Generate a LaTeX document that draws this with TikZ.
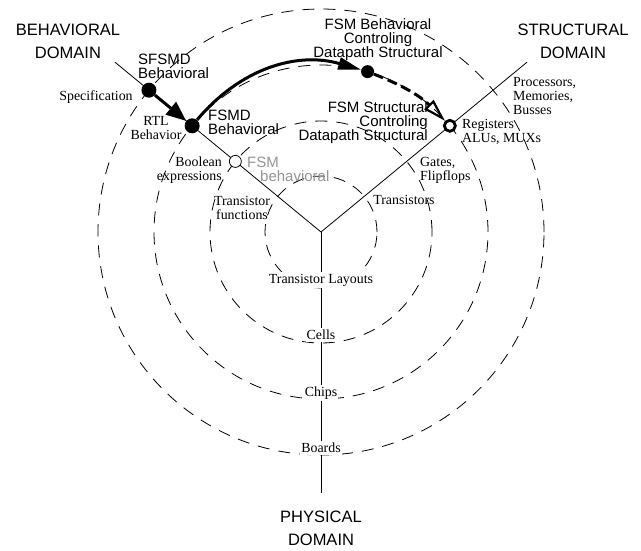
\documentclass[tikz,border=0pt]{standalone}
\usepackage{fontspec}
\setmainfont{Liberation Serif}
\setsansfont{Liberation Sans}
\usetikzlibrary{arrows.meta,calc}

\begin{document}
\begin{tikzpicture}[x=1pt,y=-1pt,
  axisline/.style={line width=0.8pt},
  ringline/.style={line width=0.8pt, dash pattern=on 12pt off 9pt},
  domaintitle/.style={font=\sffamily\fontsize{16.5}{23}\selectfont, align=center, inner sep=0pt},
  viewlabel/.style={font=\sffamily\fontsize{15}{14}\selectfont, inner sep=0pt},
  lvl/.style={font=\fontsize{13.9}{14}\selectfont, inner sep=0pt},
  onaxis/.style={lvl, fill=white, inner xsep=1pt, inner ysep=2pt},
  flowdot/.style={circle, fill=black, inner sep=0pt, minimum size=15pt},
  hollow/.style={circle, draw=black, fill=white, inner sep=0pt},
  flow/.style={line width=3pt},
]
\useasboundingbox (0,0) rectangle (641,550);

% the three domain axes
\coordinate (O) at (321,232);
\coordinate (beh) at ($(O)+(140.5:267pt)$);
\coordinate (str) at ($(O)+(39.5:267pt)$);
\coordinate (phy) at (321,493);

% abstraction levels
\foreach \r in {56,111,167,223}
  \draw[ringline] (O) circle[radius=\r pt];

\draw[axisline] (O) -- (beh);
\draw[axisline] (O) -- (str);
\draw[axisline] (O) -- (phy);

% domain titles
\node[domaintitle] (bd) at (68,41) {BEHAVIORAL\\DOMAIN};
\node[domaintitle] (sd) at (573,41) {STRUCTURAL\\DOMAIN};
\node[domaintitle] (pd) at (321,528) {PHYSICAL\\DOMAIN};

% physical domain levels
\node[onaxis] (tl) at (321,280) {Transistor Layouts};
\node[onaxis] (cells) at (321,335) {Cells};
\node[onaxis] (chips) at (321,393) {Chips};
\node[onaxis] (boards) at (321,448) {Boards};

% behavioral domain levels
\node[lvl] (spec) at (96,97) {Specification};
\node[lvl, align=center] (rtl) at (156,128) {RTL\\Behavior};
\node[lvl, align=right, anchor=east] (boole) at (222,170) {Boolean\\expressions};
\node[lvl, align=center] (tf) at (242,208) {Transistor\\functions};

% structural domain levels
\node[lvl] (tr) at (404,200) {Transistors};
\node[lvl, align=left, anchor=west] (gf) at (420,170) {Gates,\\Flipflops};
\node[lvl, align=left, anchor=west] (ra) at (462,131.5) {Registers\\ALUs, MUXs};
\node[lvl, align=left, anchor=west] (pmb) at (513,96) {Processors,\\Memories,\\Busses};

% design views
\node[viewlabel, align=left, anchor=west] (v1) at (138,66) {SFSMD\\Behavioral};
\node[viewlabel, align=left, anchor=west] (v2) at (208,122) {FSMD\\Behavioral};
\node[viewlabel, align=center] (v3) at (378,40) {FSM Behavioral\\Controling\\Datapath Structural};
\node[viewlabel, align=right, anchor=east] (v4) at (428,123) {FSM Structural\\Controling\\Datapath Structural};
\node[viewlabel, align=left, anchor=west, text=black!42] (v5) at (247,169) {FSM\\\hspace*{13pt}behavioral};

% points of the design flow
\node[flowdot] (sfsmd) at ($(O)+(140.5:223pt)$) {};
\node[flowdot] (fsmd) at ($(O)+(140.5:167pt)$) {};
\node[flowdot, minimum size=13pt] (fsmc) at ($(O)+(73.8:167pt)$) {};
\node[hollow, line width=2.8pt, minimum size=11pt] (reg) at ($(O)+(39.5:167pt)$) {};
\node[hollow, line width=0.8pt, minimum size=12pt] (bool) at ($(O)+(140.5:111pt)$) {};

% design flow
\draw[flow, -{Triangle[length=20pt,width=16pt]}] (sfsmd) -- (fsmd);
\draw[flow, -{Triangle[length=23pt,width=12pt]}] (fsmd) to[bend left=33] (fsmc);
\draw[flow, dash pattern=on 10pt off 5pt,
      -{Triangle[open,length=23pt,width=13pt,line width=2.2pt]}] (fsmc) to[bend left=12] (reg);
\end{tikzpicture}
\end{document}
